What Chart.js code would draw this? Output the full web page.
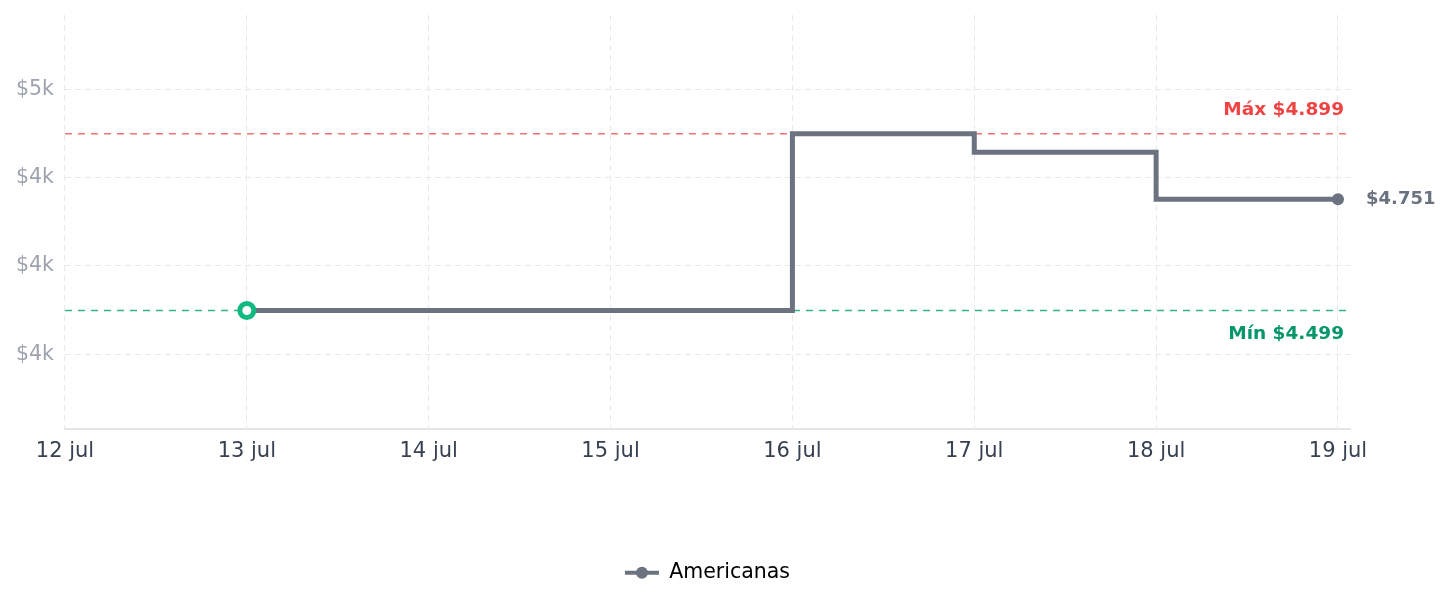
<!DOCTYPE html>
<html lang="pt-BR">
<head>
<meta charset="UTF-8">
<title>Histórico de preço</title>
<script src="https://cdn.jsdelivr.net/npm/chart.js"></script>
<style>
  html, body { margin: 0; padding: 0; background: #fff; }
  .chart-box { width: 1452px; height: 607px; }
</style>
</head>
<body>
<div class="chart-box"><canvas id="chart"></canvas></div>
<script>
// dates on the x axis (12 jul .. 19 jul)
const dayLabels = ['12 jul', '13 jul', '14 jul', '15 jul', '16 jul', '17 jul', '18 jul', '19 jul'];
// price per day for the store, null = no reading
const storeName = 'Americanas';
const prices = [null, 4499, 4499, 4499, 4899, 4857, 4751, 4751];
const yTicks = [4400, 4600, 4800, 5000];

const lineColor = '#6b7280';
const known = prices.filter(p => p !== null);
const maxPrice = Math.max(...known);
const minPrice = Math.min(...known);
const firstIdx = prices.findIndex(p => p !== null);
const lastIdx = prices.length - 1;

function brl(v) {
  return '$' + String(Math.round(v)).replace(/\B(?=(\d{3})+(?!\d))/g, '.');
}

const points = prices.map((p, i) => ({ x: i, y: p }));

Chart.defaults.font.family = "'DejaVu Sans', sans-serif";

// dashed max/min lines, their labels and the last-price label
const refLines = {
  id: 'refLines',
  beforeDatasetsDraw(chart) {
    const { ctx, chartArea, scales } = chart;
    const draw = (value, color) => {
      const y = scales.y.getPixelForValue(value);
      ctx.save();
      ctx.strokeStyle = color;
      ctx.lineWidth = 1.5;
      ctx.setLineDash([7, 6]);
      ctx.beginPath();
      ctx.moveTo(chartArea.left, y);
      ctx.lineTo(chartArea.right, y);
      ctx.stroke();
      ctx.restore();
      return y;
    };
    const yMax = draw(maxPrice, '#f87171');
    const yMin = draw(minPrice, '#34b38a');
    ctx.save();
    ctx.font = "bold 18.5px 'DejaVu Sans'";
    ctx.textAlign = 'right';
    ctx.textBaseline = 'middle';
    ctx.fillStyle = '#ef4444';
    ctx.fillText('Máx ' + brl(maxPrice), chartArea.right - 6, yMax - 24);
    ctx.fillStyle = '#059669';
    ctx.fillText('Mín ' + brl(minPrice), chartArea.right - 6, yMin + 24);
    ctx.restore();
  },
  afterDraw(chart) {
    const { ctx, scales } = chart;
    const x = scales.x.getPixelForValue(lastIdx);
    const y = scales.y.getPixelForValue(prices[lastIdx]);
    ctx.save();
    ctx.font = "bold 18px 'DejaVu Sans'";
    ctx.textAlign = 'left';
    ctx.textBaseline = 'middle';
    ctx.fillStyle = lineColor;
    ctx.fillText(brl(prices[lastIdx]), x + 28, y);
    // dot in the middle of the legend line
    const box = chart.legend.legendHitBoxes[0];
    if (box) {
      ctx.fillStyle = lineColor;
      ctx.beginPath();
      ctx.arc(box.left + 17, box.top + box.height / 2, 6, 0, Math.PI * 2);
      ctx.fill();
    }
    ctx.restore();
  }
};

new Chart(document.getElementById('chart'), {
  type: 'line',
  data: {
    datasets: [{
      label: storeName,
      data: points,
      borderColor: lineColor,
      backgroundColor: lineColor,
      borderWidth: 5,
      stepped: true,
      fill: false,
      pointStyle: 'circle',
      pointRadius: prices.map((p, i) => i === firstIdx ? 7 : (i === lastIdx ? 6 : 0)),
      pointHoverRadius: 0,
      pointBorderWidth: prices.map((p, i) => i === firstIdx ? 5 : 0),
      pointBorderColor: prices.map((p, i) => i === firstIdx ? '#10b981' : lineColor),
      pointBackgroundColor: prices.map((p, i) => i === firstIdx ? '#ffffff' : lineColor)
    }]
  },
  options: {
    responsive: true,
    maintainAspectRatio: false,
    animation: false,
    layout: { padding: { top: 15, left: 5, right: 102, bottom: 14 } },
    scales: {
      x: {
        type: 'linear',
        min: 0,
        max: 7.066,
        ticks: {
          stepSize: 1,
          includeBounds: false,
          padding: 10,
          color: '#374151',
          font: { size: 21 },
          callback: v => dayLabels[v] || ''
        },
        grid: { color: '#e9e9ec', drawTicks: false },
        border: { color: '#e3e3e8', width: 2, dash: [6, 4] },
        afterFit: axis => {
          axis.height += 78;
          axis.paddingLeft = 0;
          axis.paddingRight = 0;
        }
      },
      y: {
        min: 4230,
        max: 5168,
        afterBuildTicks: axis => { axis.ticks = yTicks.map(v => ({ value: v })); },
        ticks: {
          padding: 11,
          color: '#9ca3af',
          font: { size: 20.5 },
          callback: v => '$' + Math.floor(v / 1000) + 'k'
        },
        grid: { color: '#e9e9ec', drawTicks: false },
        border: { display: false, dash: [6, 4] },
        afterFit: axis => {
          axis.paddingTop = 0;
          axis.paddingBottom = 0;
        }
      }
    },
    plugins: {
      legend: {
        position: 'bottom',
        fullSize: false,
        labels: {
          usePointStyle: true,
          pointStyleWidth: 34,
          boxHeight: 12,
          color: '#111111',
          font: { size: 20.5 },
          generateLabels: chart => [{
            text: storeName,
            pointStyle: 'line',
            strokeStyle: lineColor,
            fillStyle: lineColor,
            lineWidth: 4,
            datasetIndex: 0,
            hidden: false
          }]
        }
      },
      tooltip: { enabled: false }
    }
  },
  plugins: [refLines]
});
</script>
</body>
</html>
